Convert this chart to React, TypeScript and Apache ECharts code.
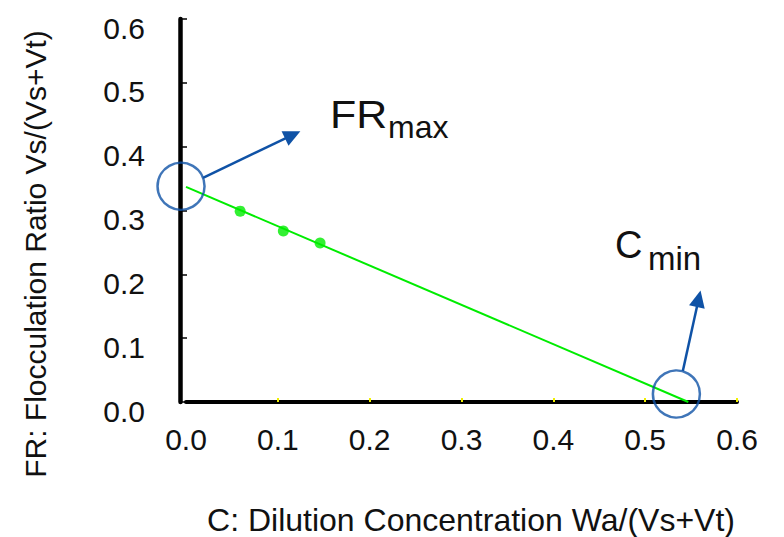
import React, { useEffect, useRef } from 'react';
import * as echarts from 'echarts';

// Axis ticks / labels
const xLabelValues = [0, 0.1, 0.2, 0.3, 0.4, 0.5, 0.6];
const xTickValues = [0.1, 0.2, 0.3, 0.4, 0.5, 0.6];

// Measured points (C, FR)
const measuredC = [0.059, 0.106, 0.146];
const measuredFR = [0.299, 0.268, 0.249];

// Fitted line end points
const fitC = [0, 0.547];
const fitFR = [0.337, 0];

// Annotation circles (FRmax on y axis, Cmin on x axis)
const circleC = [-0.0054, 0.534];
const circleFR = [0.338, 0.0125];

// Annotation arrows
const arrowFromC = [0.0185, 0.541];
const arrowFromFR = [0.351, 0.0486];
const arrowToC = [0.1162, 0.5583];
const arrowToFR = [0.4185, 0.1618];

const FONT = '"Liberation Sans", Arial, sans-serif';
const GREEN = '#00ec00';
const BLUE = '#0f52a6';

const txt = (text: string, size: number, extra: any = {}) => ({
  text,
  fontSize: size,
  fontFamily: FONT,
  fontStyle: 'normal',
  fontWeight: 'normal',
  fill: '#111',
  align: 'left',
  verticalAlign: 'middle',
  ...extra,
});

export default function App() {
  const ref = useRef<HTMLDivElement>(null);
  useEffect(() => {
    if (!ref.current) return;
    const chart = echarts.init(ref.current, undefined, { renderer: 'svg' });
    const option: any = {
      animation: false,
      backgroundColor: '#ffffff',
      grid: { left: 186, right: 47, top: 19, bottom: 135 },
      xAxis: {
        type: 'value',
        min: 0,
        max: 0.6,
        interval: 0.1,
        axisLine: { show: true, onZero: false, lineStyle: { color: '#000', width: 4 } },
        axisTick: {
          show: true,
          inside: true,
          length: 4,
          customValues: xTickValues,
          lineStyle: { color: '#f0f000', width: 2 },
        },
        axisLabel: {
          customValues: xLabelValues,
          formatter: (v: number) => v.toFixed(1),
          fontSize: 30,
          fontFamily: FONT,
          fontWeight: 'normal',
          color: '#111',
          margin: 22,
        },
        splitLine: { show: false },
      },
      yAxis: {
        type: 'value',
        min: 0,
        max: 0.6,
        interval: 0.1,
        offset: 6,
        axisLine: { show: true, onZero: false, lineStyle: { color: '#000', width: 4.5 } },
        axisTick: { show: true, inside: true, length: 7, lineStyle: { color: '#000', width: 1.5 } },
        axisLabel: {
          formatter: (v: number) => v.toFixed(1),
          fontSize: 30,
          fontFamily: FONT,
          fontWeight: 'normal',
          color: '#111',
          verticalAlign: 'top',
          lineHeight: 18,
          margin: 35,
        },
        splitLine: { show: false },
      },
      series: [
        {
          type: 'line',
          data: fitC.map((c, i) => [c, fitFR[i]]),
          symbol: 'none',
          lineStyle: { color: GREEN, width: 2 },
          silent: true,
          z: 2,
        },
        {
          type: 'scatter',
          data: measuredC.map((c, i) => [c, measuredFR[i]]),
          symbolSize: 11,
          itemStyle: { color: GREEN },
          silent: true,
          z: 3,
        },
        {
          type: 'scatter',
          data: circleC.map((c, i) => [c, circleFR[i]]),
          symbol: 'circle',
          symbolSize: 47,
          clip: false,
          itemStyle: { color: 'rgba(0,0,0,0)', borderColor: BLUE, borderWidth: 2.5 },
          silent: true,
          z: 5,
          markLine: {
            silent: true,
            symbol: ['none', 'triangle'],
            symbolSize: [16, 17],
            label: { show: false },
            lineStyle: { color: BLUE, width: 2.5, type: 'solid' },
            itemStyle: { color: BLUE },
            data: arrowFromC.map((c, i) => [
              { coord: [c, arrowFromFR[i]] },
              { coord: [arrowToC[i], arrowToFR[i]] },
            ]),
          },
        },
      ],
      graphic: [
        {
          type: 'text',
          x: 471,
          y: 520,
          style: txt('C: Dilution Concentration Wa/(Vs+Vt)', 32, { align: 'center' }),
        },
        {
          type: 'text',
          x: 35,
          y: 254,
          rotation: Math.PI / 2,
          style: txt('FR: Flocculation Ratio Vs/(Vs+Vt)', 30, { align: 'center' }),
        },
        { type: 'text', x: 330, y: 114.5, scaleX: 1.1, style: txt('FR', 39) },
        { type: 'text', x: 388, y: 127, style: txt('max', 32) },
        { type: 'text', x: 615, y: 245, style: txt('C', 38) },
        { type: 'text', x: 648, y: 258, style: txt('min', 33) },
      ],
    };
    chart.setOption(option);
    return () => chart.dispose();
  }, []);
  return (
    <div
      ref={ref}
      style={{ position: 'fixed', left: 0, top: 0, width: 784, height: 537, background: '#fff' }}
    />
  );
}
